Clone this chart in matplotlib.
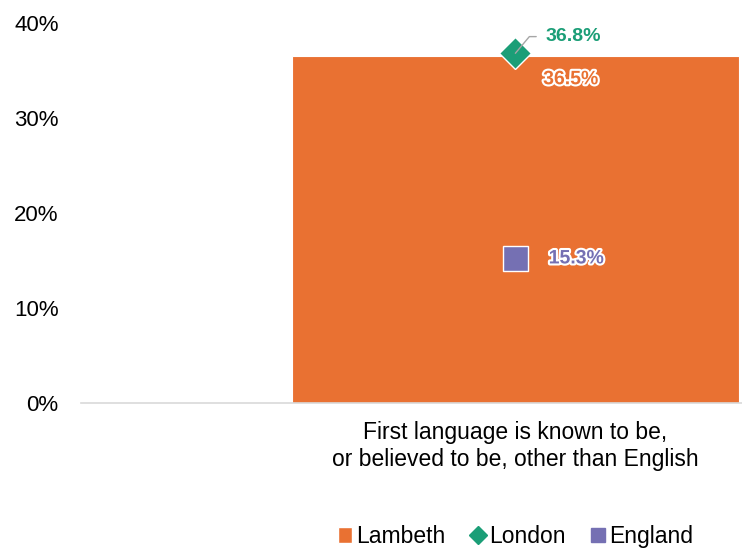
import matplotlib.pyplot as plt
import matplotlib.patheffects as pe
from matplotlib.lines import Line2D
from matplotlib.patches import Patch

plt.rcParams['font.family'] = ['Liberation Sans', 'DejaVu Sans']

category = "First language is known to be,\nor believed to be, other than English"
lambeth = 36.5
london = 36.8
england = 15.3
yticks = [0, 10, 20, 30, 40]

orange = '#E97132'
green = '#1B9E77'
purple = '#7570B3'

fig = plt.figure(figsize=(7.42, 5.58), dpi=100)
ax = fig.add_axes([0.109, 0.278, 0.891, 0.681])

ax.bar([0], [lambeth], width=1.0, color=orange, edgecolor='white', linewidth=0.8, zorder=2)
ax.plot([0], [london], marker='D', markersize=16, color=green,
        markeredgecolor='white', markeredgewidth=1, linestyle='', zorder=3)
ax.plot([0], [england], marker='s', markersize=18, color=purple,
        markeredgecolor='white', markeredgewidth=1, linestyle='', zorder=3)

glow = [pe.withStroke(linewidth=3, foreground='white')]

# London label with a small leader line back to the marker
ax.annotate(f"{london}%", xy=(0, london), xytext=(22, 12), textcoords='offset points',
            color=green, fontsize=14, fontweight='bold', va='center', ha='left',
            arrowprops=dict(arrowstyle='-', color='#A6A6A6', lw=1,
                            connectionstyle='angle,angleA=0,angleB=50,rad=0',
                            shrinkA=5, shrinkB=0),
            zorder=4)
ax.annotate(f"{lambeth}%", xy=(0, lambeth), xytext=(20, -17), textcoords='offset points',
            color=orange, fontsize=14, fontweight='bold', va='center', ha='left',
            path_effects=glow, zorder=4)
ax.annotate(f"{england}%", xy=(0, england), xytext=(24, -1), textcoords='offset points',
            color=purple, fontsize=14, fontweight='bold', va='center', ha='left',
            path_effects=glow, zorder=4)

ax.set_xlim(-0.972, 0.507)
ax.set_ylim(0, 40)
ax.set_yticks(yticks)
ax.set_yticklabels([f"{v}%" for v in yticks])
ax.set_xticks([0])
ax.set_xticklabels([category], fontsize=16.5, linespacing=1.2)
ax.tick_params(axis='y', length=0, pad=16, labelsize=16)
ax.tick_params(axis='x', length=0, pad=13)
for side in ['top', 'right', 'left']:
    ax.spines[side].set_visible(False)
ax.spines['bottom'].set_color('#D9D9D9')
ax.spines['bottom'].set_linewidth(1.2)

handles = [
    Patch(facecolor=orange, edgecolor='white', label='Lambeth'),
    Line2D([], [], marker='D', color=green, markersize=9, linestyle='', label='London'),
    Line2D([], [], marker='s', color=purple, markersize=10, linestyle='', label='England'),
]
fig.legend(handles=handles, loc='center', bbox_to_anchor=(0.695, 0.038), ncol=3,
           frameon=False, fontsize=16.5, handlelength=0.6, handletextpad=0.2,
           columnspacing=1.1)

fig.savefig('out.png', dpi=100)
